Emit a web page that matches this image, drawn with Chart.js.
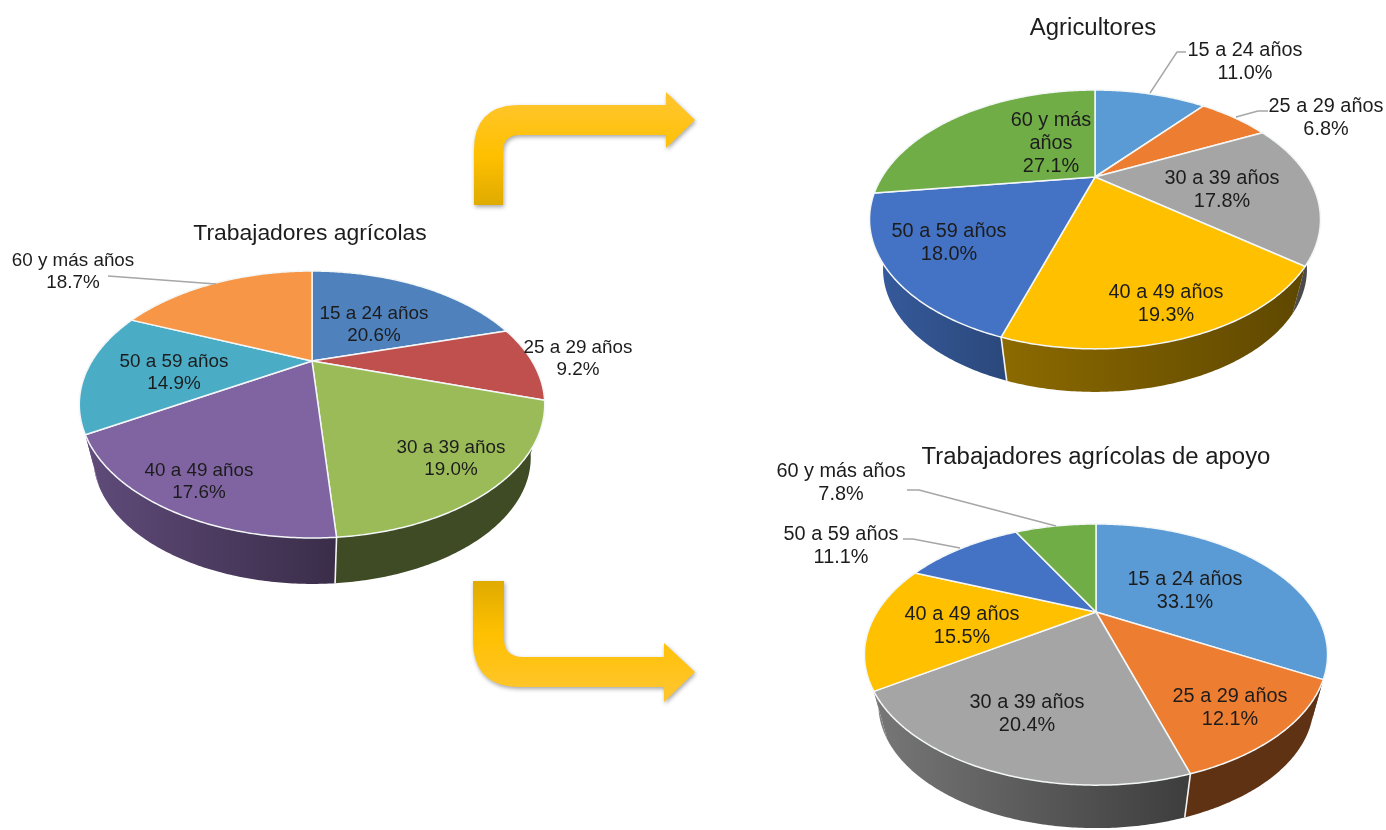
<!DOCTYPE html>
<html lang="es"><head><meta charset="utf-8">
<script src="https://cdn.jsdelivr.net/npm/chart.js@4"></script>
<style>
html,body{margin:0;padding:0;background:#fff;width:1386px;height:830px;overflow:hidden}
#page{position:relative;width:1386px;height:830px;overflow:hidden;filter:blur(.4px)}
canvas{position:absolute}
svg{position:absolute;left:0;top:0}
</style></head><body>
<div id="page">
<svg width="1386" height="830" viewBox="0 0 1386 830" style="filter:drop-shadow(1px 2px 2px rgba(0,0,0,.35))">
<defs>
<linearGradient id="gTop" gradientUnits="userSpaceOnUse" x1="0" y1="205" x2="0" y2="105">
<stop offset="0" stop-color="#dfab00"/><stop offset=".5" stop-color="#ffc000"/><stop offset="1" stop-color="#ffc528"/></linearGradient>
<linearGradient id="gBot" gradientUnits="userSpaceOnUse" x1="0" y1="581" x2="0" y2="687">
<stop offset="0" stop-color="#dfab00"/><stop offset=".5" stop-color="#ffc000"/><stop offset="1" stop-color="#ffc528"/></linearGradient>
</defs>
<path fill="url(#gTop)" d="M474 205 V150 Q474 105 520 105 H666 V92 L695 120 L666 148 V135 H520 Q503 135 503 152 V205 Z"/>
<path fill="url(#gBot)" d="M473 581 V640 Q473 687 520 687 H664 V702 L695 672 L664 643 V657 H523 Q504 657 504 638 V581 Z"/>
</svg>
<canvas id="c1" width="660" height="480" style="left:-18px;top:121px;width:660px;height:480px"></canvas>
<canvas id="c2" width="600" height="450" style="left:795px;top:-48px;width:600px;height:450px"></canvas>
<canvas id="c3" width="650" height="450" style="left:771px;top:387px;width:650px;height:450px"></canvas>
</div>
<script>
const categories = ['15 a 24 años','25 a 29 años','30 a 39 años','40 a 49 años','50 a 59 años','60 y más años'];
const valuesTrabajadores = [20.6, 9.2, 19.0, 17.6, 14.9, 18.7];
const valuesAgricultores = [11.0, 6.8, 17.8, 19.3, 18.0, 27.1];
const valuesApoyo = [33.1, 12.1, 20.4, 15.5, 11.1, 7.8];
const titleTrabajadores = 'Trabajadores agrícolas';
const titleAgricultores = 'Agricultores';
const titleApoyo = 'Trabajadores agrícolas de apoyo';
const coloursOffice2007 = ['#4f81bd','#c0504d','#9bbb59','#8064a2','#4bacc6','#f79646'];
const coloursOffice2013 = ['#5b9bd5','#ed7d31','#a5a5a5','#ffc000','#4472c4','#70ad47'];

function shade(hex,f){
  const n=parseInt(hex.slice(1),16);
  return `rgb(${Math.round((n>>16&255)*f)},${Math.round((n>>8&255)*f)},${Math.round((n&255)*f)})`;
}
const FONT='"Liberation Sans", Arial, sans-serif';

const tiltedPie={
  id:'tiltedPie',
  beforeDatasetDraw(chart){
    const o=chart.options.plugins.tiltedPie, ctx=chart.ctx;
    const arcs=chart.getDatasetMeta(0).data;
    const cols=chart.data.datasets[0].backgroundColor;
    const proj=(arc,t)=>{
      const u=Math.cos(t),v=Math.sin(t),d=1-o.p*v;
      return [arc.x+arc.outerRadius*u/d, arc.y+o.b*v/d];
    };
    const cy=arcs[0].y+o.b*o.p/(1-o.p*o.p);
    const rx=arcs[0].outerRadius/Math.sqrt(1-o.p*o.p);
    const low=(arc,P)=>[arc.x+o.sx*(P[0]-arc.x), cy+o.sy*(P[1]-cy)+o.depth];
    const sample=arc=>{
      const pts=[],n=Math.max(4,Math.ceil((arc.endAngle-arc.startAngle)/0.01));
      for(let i=0;i<=n;i++)pts.push(proj(arc,arc.startAngle+(arc.endAngle-arc.startAngle)*i/n));
      return pts;
    };
    // side wall
    arcs.forEach((arc,i)=>{
      const top=sample(arc), bot=top.map(p=>low(arc,p));
      const xs=top.map(p=>p[0]).concat(bot.map(p=>p[0]));
      const g=ctx.createLinearGradient(Math.min(...xs),0,Math.max(...xs),0);
      const sh=o.rimShade[i];
      const base=cols[o.rimAs[i]===undefined?i:o.rimAs[i]];
      g.addColorStop(0,shade(base,sh[0]));g.addColorStop(1,shade(base,sh[1]));
      ctx.beginPath();
      top.forEach((p,k)=>k?ctx.lineTo(p[0],p[1]):ctx.moveTo(p[0],p[1]));
      bot.reverse().forEach(p=>ctx.lineTo(p[0],p[1]));
      ctx.closePath();ctx.fillStyle=g;ctx.fill();
    });
    // wall seams on the front
    arcs.forEach(arc=>{
      const P=proj(arc,arc.startAngle);
      if(Math.sin(arc.startAngle)>0 && Math.abs(P[0]-arc.x)<0.85*rx){
        const Q=low(arc,P);
        ctx.beginPath();ctx.moveTo(P[0],P[1]);ctx.lineTo(Q[0],Q[1]);
        ctx.strokeStyle='#f4f4f4';ctx.lineWidth=1.6;ctx.stroke();
      }
    });
    // top face
    arcs.forEach((arc,i)=>{
      const top=sample(arc);
      ctx.beginPath();ctx.moveTo(arc.x,arc.y);
      top.forEach(p=>ctx.lineTo(p[0],p[1]));
      ctx.closePath();
      ctx.fillStyle=cols[i];ctx.fill();
      ctx.strokeStyle='#f4f7f7';ctx.lineWidth=1.5;ctx.lineJoin='round';ctx.stroke();
    });
    return false;
  },
  afterDraw(chart){
    const o=chart.options.plugins.tiltedPie, ctx=chart.ctx;
    const vals=chart.data.datasets[0].data, labs=chart.data.labels;
    ctx.save();
    ctx.translate(-o.left,-o.top);
    ctx.strokeStyle='#a6a6a6';ctx.lineWidth=1.4;
    o.leaders.forEach(l=>{
      ctx.beginPath();l.forEach((p,k)=>k?ctx.lineTo(p[0],p[1]):ctx.moveTo(p[0],p[1]));ctx.stroke();
    });
    const put=(t,x,y,size,sx)=>{
      ctx.save();ctx.translate(x,y+1);ctx.scale(sx,1);
      ctx.font=size+'px '+FONT;ctx.textAlign='center';ctx.textBaseline='middle';
      ctx.fillStyle='#1c1c1c';ctx.fillText(t,0,0);ctx.restore();
    };
    put(o.title,o.titleAt[0],o.titleAt[1],o.titleSize,o.titleSx);
    labs.forEach((lab,i)=>{
      const at=o.labelAt[i];
      const lines=(o.wrap[i]||[lab]).concat(vals[i].toFixed(1)+'%');
      lines.forEach((t,k)=>put(t,at[0],at[1]+k*o.lineH,o.labelSize,o.labelSx));
    });
    ctx.restore();
  }
};
Chart.register(tiltedPie);

function build(id,values,colours,radius,opts){
  new Chart(document.getElementById(id),{
    type:'pie',
    data:{labels:categories,datasets:[{data:values,backgroundColor:colours,borderWidth:0,radius:radius}]},
    options:{responsive:false,animation:false,events:[],layout:{padding:0},
      plugins:{legend:{display:false},title:{display:false},tooltip:{enabled:false},tiltedPie:opts}}
  });
}

build('c1',valuesTrabajadores,coloursOffice2007,220,{
  left:-18,top:121,p:.326,b:119.3,sx:.94,sy:.947,depth:53,
  rimShade:[[.5,.4],[.5,.4],[.4,.4],[.75,.45],[.78,.75],[.6,.5]],rimAs:{4:3},
  title:titleTrabajadores,titleAt:[310,233],titleSize:21.5,titleSx:1.065,
  labelSize:17.7,labelSx:1.065,lineH:22,wrap:{},
  labelAt:[[374,313],[578,347],[451,447],[199,470],[174,361],[73,260]],
  leaders:[[[108,276],[216,284]]]
});
build('c2',valuesAgricultores,coloursOffice2013,213,{
  left:795,top:-48,p:.328,b:115.5,sx:.94,sy:.947,depth:49.9,
  rimShade:[[.5,.4],[.5,.4],[.6,.4],[.55,.37],[.8,.63],[.6,.5]],rimAs:{},
  title:titleAgricultores,titleAt:[1093,28],titleSize:23,titleSx:1.04,
  labelSize:19.3,labelSx:1.03,lineH:23,wrap:{5:['60 y más','años']},
  labelAt:[[1245,50],[1326,106],[1222,178],[1166,292],[949,231],[1051,120]],
  leaders:[[[1186,52],[1177,52],[1150,93]],[[1268,111],[1258,111],[1236,117]]]
});
build('c3',valuesApoyo,coloursOffice2013,218.9,{
  left:771,top:387,p:.326,b:116.7,sx:.94,sy:.947,depth:49.9,
  rimShade:[[.5,.4],[.4,.4],[.72,.37],[.78,.75],[.8,.63],[.6,.5]],rimAs:{3:2},
  title:titleApoyo,titleAt:[1096,457],titleSize:23,titleSx:1.04,
  labelSize:19.3,labelSx:1.03,lineH:23,wrap:{},
  labelAt:[[1185,579],[1230,696],[1027,702],[962,614],[841,534],[841,471]],
  leaders:[[[907,490],[919,490],[1056,526]],[[903,539],[913,539],[960,548]]]
});
</script>
</body></html>
